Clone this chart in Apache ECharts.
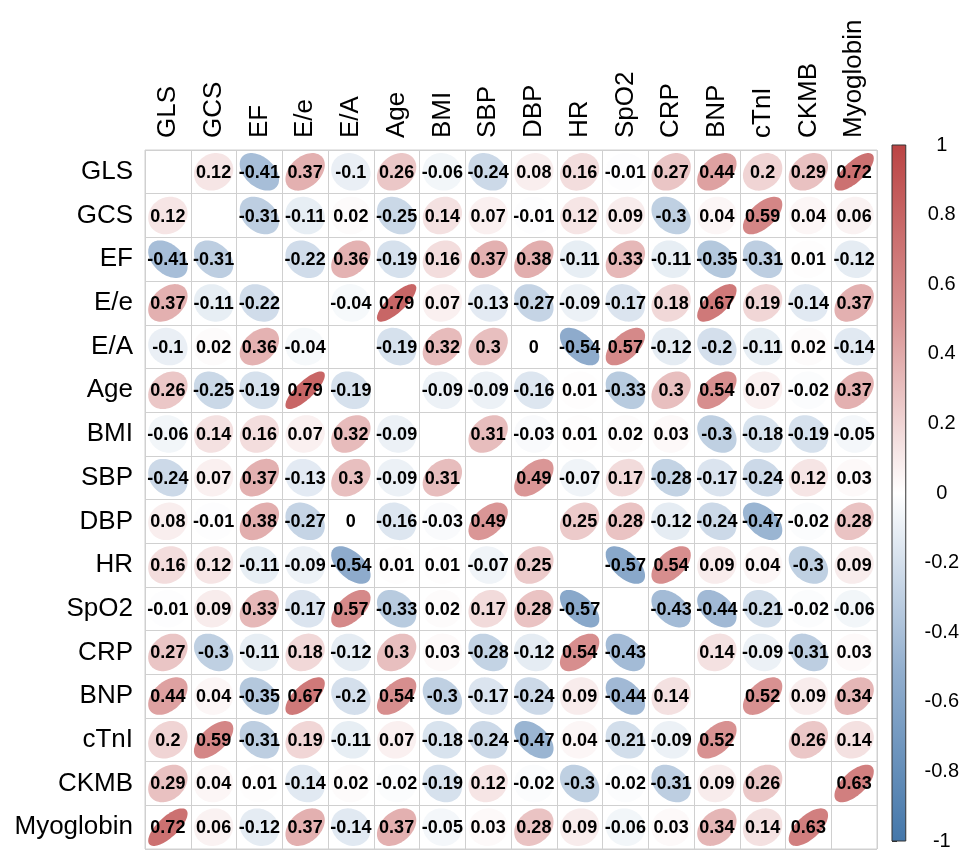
<!DOCTYPE html>
<html>
<head>
<meta charset="utf-8">
<script src="https://cdn.jsdelivr.net/npm/echarts@6/dist/echarts.min.js"></script>
<style>
html,body{margin:0;padding:0;background:#fff;}
#chart{width:962px;height:851px;}
</style>
</head>
<body>
<div id="chart"></div>
<script>
const vars = ['GLS','GCS','EF','E/e','E/A','Age','BMI','SBP','DBP','HR','SpO2','CRP','BNP','cTnI','CKMB','Myoglobin'];

const rGLS  = [null, 0.12, -0.41, 0.37, -0.1, 0.26, -0.06, -0.24, 0.08, 0.16, -0.01, 0.27, 0.44, 0.2, 0.29, 0.72];
const rGCS  = [0.12, null, -0.31, -0.11, 0.02, -0.25, 0.14, 0.07, -0.01, 0.12, 0.09, -0.3, 0.04, 0.59, 0.04, 0.06];
const rEF   = [-0.41, -0.31, null, -0.22, 0.36, -0.19, 0.16, 0.37, 0.38, -0.11, 0.33, -0.11, -0.35, -0.31, 0.01, -0.12];
const rEe   = [0.37, -0.11, -0.22, null, -0.04, 0.79, 0.07, -0.13, -0.27, -0.09, -0.17, 0.18, 0.67, 0.19, -0.14, 0.37];
const rEA   = [-0.1, 0.02, 0.36, -0.04, null, -0.19, 0.32, 0.3, 0, -0.54, 0.57, -0.12, -0.2, -0.11, 0.02, -0.14];
const rAge  = [0.26, -0.25, -0.19, 0.79, -0.19, null, -0.09, -0.09, -0.16, 0.01, -0.33, 0.3, 0.54, 0.07, -0.02, 0.37];
const rBMI  = [-0.06, 0.14, 0.16, 0.07, 0.32, -0.09, null, 0.31, -0.03, 0.01, 0.02, 0.03, -0.3, -0.18, -0.19, -0.05];
const rSBP  = [-0.24, 0.07, 0.37, -0.13, 0.3, -0.09, 0.31, null, 0.49, -0.07, 0.17, -0.28, -0.17, -0.24, 0.12, 0.03];
const rDBP  = [0.08, -0.01, 0.38, -0.27, 0, -0.16, -0.03, 0.49, null, 0.25, 0.28, -0.12, -0.24, -0.47, -0.02, 0.28];
const rHR   = [0.16, 0.12, -0.11, -0.09, -0.54, 0.01, 0.01, -0.07, 0.25, null, -0.57, 0.54, 0.09, 0.04, -0.3, 0.09];
const rSpO2 = [-0.01, 0.09, 0.33, -0.17, 0.57, -0.33, 0.02, 0.17, 0.28, -0.57, null, -0.43, -0.44, -0.21, -0.02, -0.06];
const rCRP  = [0.27, -0.3, -0.11, 0.18, -0.12, 0.3, 0.03, -0.28, -0.12, 0.54, -0.43, null, 0.14, -0.09, -0.31, 0.03];
const rBNP  = [0.44, 0.04, -0.35, 0.67, -0.2, 0.54, -0.3, -0.17, -0.24, 0.09, -0.44, 0.14, null, 0.52, 0.09, 0.34];
const rcTnI = [0.2, 0.59, -0.31, 0.19, -0.11, 0.07, -0.18, -0.24, -0.47, 0.04, -0.21, -0.09, 0.52, null, 0.26, 0.14];
const rCKMB = [0.29, 0.04, 0.01, -0.14, 0.02, -0.02, -0.19, 0.12, -0.02, -0.3, -0.02, -0.31, 0.09, 0.26, null, 0.63];
const rMyo  = [0.72, 0.06, -0.12, 0.37, -0.14, 0.37, -0.05, 0.03, 0.28, 0.09, -0.06, 0.03, 0.34, 0.14, 0.63, null];

const matrix = [rGLS, rGCS, rEF, rEe, rEA, rAge, rBMI, rSBP, rDBP, rHR, rSpO2, rCRP, rBNP, rcTnI, rCKMB, rMyo];

const colorMin = -1, colorMax = 1, colorStep = 0.2;
const palette = ['#4477AA', '#94B0CF', '#FFFFFF', '#D99494', '#BB4444'];
const colorBarRange = [[0, colorMin, colorMax]];

const cells = [];
matrix.forEach((row, i) => {
  row.forEach((v, j) => {
    if (v !== null && v !== undefined) cells.push([j, i, v]);
  });
});

const FONT = '"Liberation Sans", Arial, sans-serif';

const chart = echarts.init(document.getElementById('chart'), null, {renderer: 'canvas'});

function renderEllipse(params, api) {
  const xi = api.value(0), yi = api.value(1), r = api.value(2);
  const c = api.coord([xi, yi]);
  const sz = api.size([1, 1]);
  const scale = 0.86;
  const d = Math.acos(Math.max(-0.999, Math.min(0.999, r)));
  const pts = [];
  const n = 72;
  for (let k = 0; k < n; k++) {
    const t = 2 * Math.PI * k / n;
    const ex = Math.cos(t + d / 2) / 2;
    const ey = Math.cos(t - d / 2) / 2;
    pts.push([c[0] + ex * sz[0] * scale, c[1] - ey * sz[1] * scale]);
  }
  const fill = api.visual('color');
  return {
    type: 'group',
    children: [
      {type: 'polygon', shape: {points: pts}, style: {fill: fill, stroke: null}},
      {type: 'text', x: c[0], y: c[1] + 1, style: {
        text: String(r), fill: '#000', font: 'bold 18px ' + FONT,
        textAlign: 'center', textVerticalAlign: 'middle'
      }, z2: 10}
    ]
  };
}

function renderColorBar(params, api) {
  const p0 = api.coord([api.value(0), api.value(1)]);
  const p1 = api.coord([api.value(0) + 1, api.value(2)]);
  return {
    type: 'rect',
    shape: {x: p0[0], y: p1[1], width: p1[0] - p0[0], height: p0[1] - p1[1]},
    style: {
      fill: new echarts.graphic.LinearGradient(0, 0, 0, 1, [
        {offset: 0, color: palette[4]},
        {offset: 0.25, color: palette[3]},
        {offset: 0.5, color: palette[2]},
        {offset: 0.75, color: palette[1]},
        {offset: 1, color: palette[0]}
      ]),
      stroke: '#333', lineWidth: 1
    }
  };
}

const option = {
  backgroundColor: '#fff',
  animation: false,
  grid: [
    {left: 145, top: 150, width: 732, height: 699, show: true, borderColor: '#d0d0d0', borderWidth: 1, backgroundColor: '#fff'},
    {left: 892, top: 145, width: 25, height: 704, show: false}
  ],
  xAxis: [
    {
      type: 'category', data: vars, position: 'top', gridIndex: 0,
      axisLine: {show: false}, axisTick: {show: false},
      axisLabel: {rotate: -90, fontSize: 26, margin: 12, color: '#000', fontFamily: FONT, interval: 0},
      splitLine: {show: true, interval: 0, lineStyle: {color: '#d0d0d0', width: 1}}
    },
    {type: 'value', gridIndex: 1, show: false, min: 0, max: 1}
  ],
  yAxis: [
    {
      type: 'category', data: vars, inverse: true, gridIndex: 0,
      axisLine: {show: false}, axisTick: {show: false},
      axisLabel: {fontSize: 26, margin: 12, color: '#000', fontFamily: FONT, interval: 0},
      splitLine: {show: true, interval: 0, lineStyle: {color: '#d0d0d0', width: 1}}
    },
    {
      type: 'value', gridIndex: 1, position: 'right', min: colorMin, max: colorMax, interval: colorStep,
      axisLine: {show: false},
      axisTick: {show: true, inside: false, length: 5, lineStyle: {color: '#333'}},
      splitLine: {show: false},
      axisLabel: {fontSize: 20, color: '#000', fontFamily: FONT, margin: 36, align: 'center'}
    }
  ],
  visualMap: {
    type: 'continuous', min: colorMin, max: colorMax, seriesIndex: 0, dimension: 2,
    inRange: {color: palette}, show: false
  },
  series: [
    {
      type: 'custom', coordinateSystem: 'cartesian2d', xAxisIndex: 0, yAxisIndex: 0,
      data: cells, renderItem: renderEllipse, z: 3
    },
    {
      type: 'custom', coordinateSystem: 'cartesian2d', xAxisIndex: 1, yAxisIndex: 1,
      data: colorBarRange, renderItem: renderColorBar, z: 2, silent: true
    }
  ]
};
chart.setOption(option);
</script>
</body>
</html>
